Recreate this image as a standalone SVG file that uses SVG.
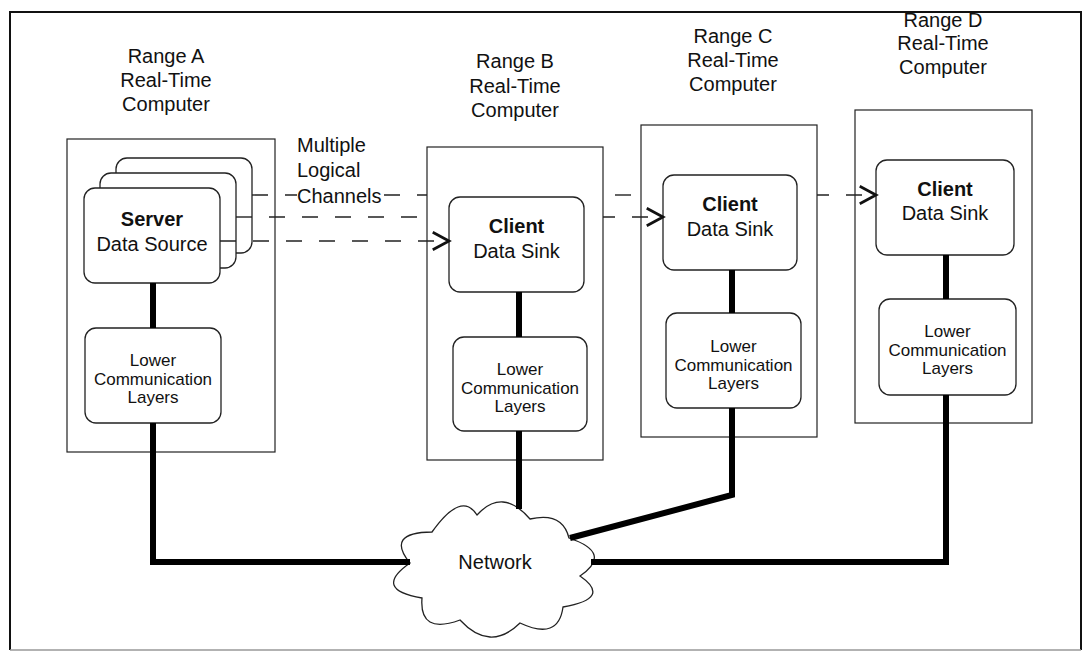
<svg xmlns="http://www.w3.org/2000/svg" width="1091" height="652" viewBox="0 0 1091 652">
<style>
.t{font-family:"Liberation Sans",Arial,sans-serif;fill:#111;text-anchor:middle}
.ttl{font-size:20px}
.b{font-weight:bold}
.lw{font-size:17px}
.lbl{font-family:"Liberation Sans",Arial,sans-serif;fill:#111;font-size:20px}
.comp{fill:#fff;stroke:#222;stroke-width:1.2}
.card{fill:#fff;stroke:#222;stroke-width:1.3}
.dash{fill:none;stroke:#222;stroke-width:1.4;stroke-dasharray:16 17}
.thick{fill:none;stroke:#000;stroke-width:6;stroke-linejoin:miter}
</style>
<defs>
<marker id="arr" markerUnits="userSpaceOnUse" markerWidth="20" markerHeight="20" viewBox="-14 -8 16 16" refX="0" refY="0" orient="auto">
<path d="M-13,-7 L0,0 L-13,7" fill="none" stroke="#111" stroke-width="2.2"/>
</marker>
</defs>
<rect width="1091" height="652" fill="#fff"/>
<g id="frame">
<path d="M10,650 V12 H1081 V650" fill="none" stroke="#111" stroke-width="2"/>
<path d="M10,650 H1081" fill="none" stroke="#999" stroke-width="1.5"/>
</g>
<g id="rangeA">
<text class="t ttl" x="166" y="63">Range A</text>
<text class="t ttl" x="166" y="87">Real-Time</text>
<text class="t ttl" x="166" y="111">Computer</text>
<rect class="comp" x="67" y="139" width="208" height="313"/>
<rect class="card" x="116" y="158" width="136" height="95" rx="11"/>
<rect class="card" x="100" y="173" width="136" height="95" rx="11"/>
<g id="serverA">
<rect class="card" x="84" y="188" width="136" height="95" rx="11"/>
<text class="t ttl b" x="152" y="226">Server</text>
<text class="t ttl" x="152" y="251">Data Source</text>
</g>
<g id="lowerA">
<rect class="card" x="85" y="328" width="136" height="95" rx="11"/>
<text class="t lw" x="153" y="366">Lower</text>
<text class="t lw" x="153" y="384.5">Communication</text>
<text class="t lw" x="153" y="403">Layers</text>
</g>
</g>
<g id="rangeB">
<text class="t ttl" x="515" y="68">Range B</text>
<text class="t ttl" x="515" y="93">Real-Time</text>
<text class="t ttl" x="515" y="117">Computer</text>
<rect class="comp" x="427" y="147" width="176" height="313"/>
<g id="clientB">
<rect class="card" x="449" y="197" width="135" height="95" rx="11"/>
<text class="t ttl b" x="516.5" y="233">Client</text>
<text class="t ttl" x="516.5" y="258">Data Sink</text>
</g>
<g id="lowerB">
<rect class="card" x="453" y="337" width="134" height="94" rx="11"/>
<text class="t lw" x="520" y="375">Lower</text>
<text class="t lw" x="520" y="393.5">Communication</text>
<text class="t lw" x="520" y="412">Layers</text>
</g>
</g>
<g id="rangeC">
<text class="t ttl" x="733" y="43">Range C</text>
<text class="t ttl" x="733" y="67">Real-Time</text>
<text class="t ttl" x="733" y="91">Computer</text>
<rect class="comp" x="641" y="125" width="176" height="312"/>
<g id="clientC">
<rect class="card" x="663" y="175" width="134" height="95" rx="11"/>
<text class="t ttl b" x="730" y="211">Client</text>
<text class="t ttl" x="730" y="236">Data Sink</text>
</g>
<g id="lowerC">
<rect class="card" x="666" y="313" width="135" height="95" rx="11"/>
<text class="t lw" x="733.5" y="352">Lower</text>
<text class="t lw" x="733.5" y="370.5">Communication</text>
<text class="t lw" x="733.5" y="389">Layers</text>
</g>
</g>
<g id="rangeD">
<text class="t ttl" x="943" y="27">Range D</text>
<text class="t ttl" x="943" y="50">Real-Time</text>
<text class="t ttl" x="943" y="74">Computer</text>
<rect class="comp" x="855" y="110" width="177" height="313"/>
<g id="clientD">
<rect class="card" x="876" y="160" width="138" height="95" rx="11"/>
<text class="t ttl b" x="945" y="196">Client</text>
<text class="t ttl" x="945" y="220">Data Sink</text>
</g>
<g id="lowerD">
<rect class="card" x="879" y="299" width="137" height="96" rx="11"/>
<text class="t lw" x="947.5" y="337">Lower</text>
<text class="t lw" x="947.5" y="355.5">Communication</text>
<text class="t lw" x="947.5" y="374">Layers</text>
</g>
</g>
<g id="network">
<path d="M410,563 Q385,532.5 432,532 Q461.5,490.5 477,515 Q502.5,487 530,519 Q562.5,511.5 569,538 Q613.5,553 580,576 Q612.5,598.5 563,607 Q558.5,641 520,623 Q490,652.5 460,620 Q419,635 422,598 Q372,589.5 410,563 Z" fill="#fff" stroke="#222" stroke-width="1.3"/>
<text class="t ttl" x="495" y="569">Network</text>
</g>
<g id="connectors">
<path class="dash" d="M252,195 H427"/>
<path class="dash" d="M603,195 H641" style="stroke-dashoffset:351"/>
<path class="dash" d="M817,195 H876" style="stroke-dashoffset:565" marker-end="url(#arr)"/>
<path class="dash" d="M236,217 H427"/>
<path class="dash" d="M603,217 H663" style="stroke-dashoffset:367" marker-end="url(#arr)"/>
<path class="dash" d="M220,241 H449" marker-end="url(#arr)"/>
<path class="thick" d="M153,283 V328"/>
<path class="thick" d="M153,423 V562 H410"/>
<path class="thick" d="M519,292 V337"/>
<path class="thick" d="M519,431 V509"/>
<path class="thick" d="M732,270 V313"/>
<path class="thick" d="M732,408 V495 L570,538"/>
<path class="thick" d="M946,255 V299"/>
<path class="thick" d="M946,395 V562 H591"/>
</g>
<g id="channelsLabel">
<rect x="297" y="186" width="87" height="21" fill="#fff"/>
<text class="lbl" x="297" y="152">Multiple</text>
<text class="lbl" x="297" y="177">Logical</text>
<text class="lbl" x="297" y="203">Channels</text>
</g>
</svg>
